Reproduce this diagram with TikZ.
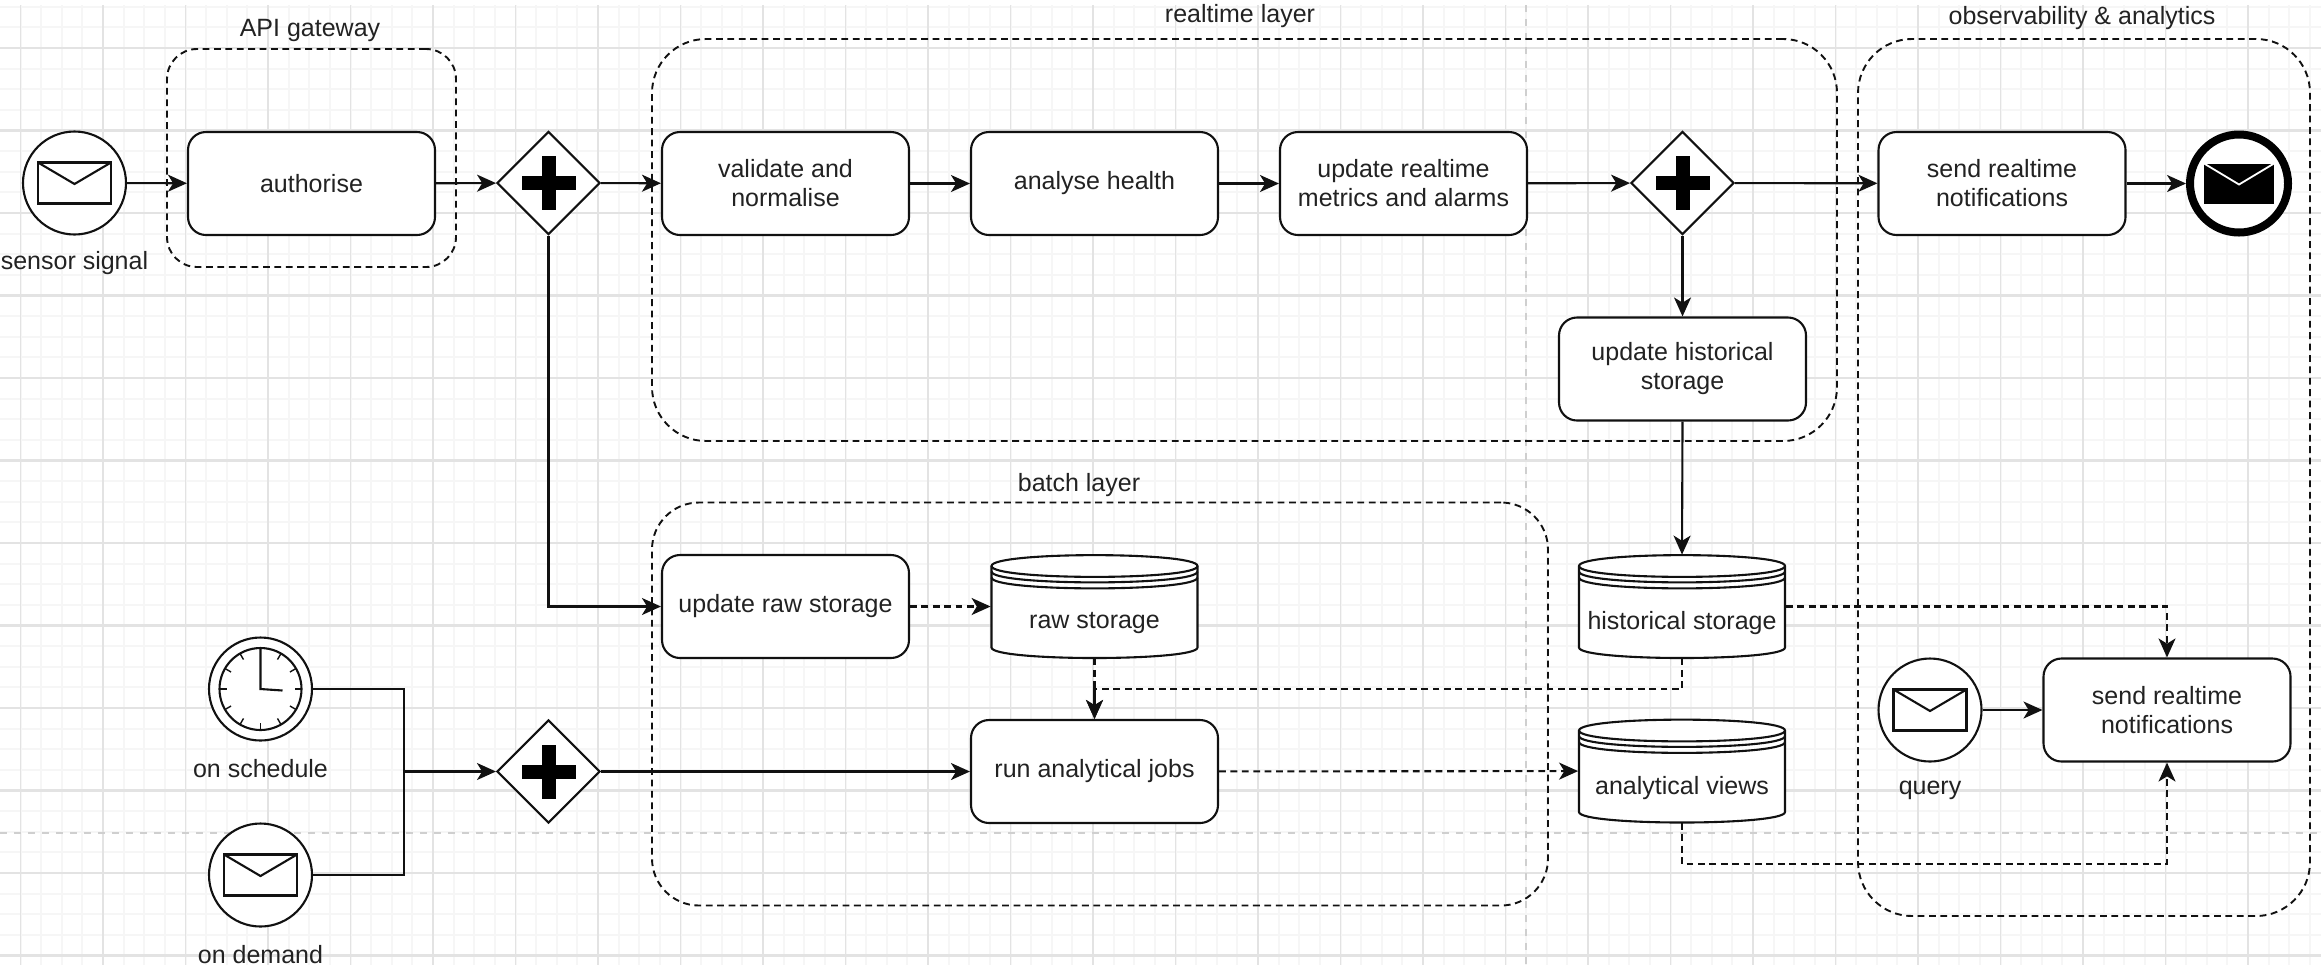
\documentclass[tikz,border=0pt]{standalone}
\usepackage{fontspec}
\setmainfont{Liberation Sans}
\usetikzlibrary{arrows.meta,shapes.geometric,calc}
\definecolor{gridmajor}{HTML}{E3E3E3}
\definecolor{gridminor}{HTML}{F6F6F6}
\definecolor{pagebreak}{HTML}{CFCFCF}
\definecolor{inkline}{HTML}{111111}
\definecolor{inktext}{HTML}{222222}
\tikzset{
  diagramfont/.style={font=\fontsize{12.5}{14.5}\selectfont, text=inktext},
  stroke/.style={draw=inkline, line width=1.05pt},
  taskbox/.style={stroke, fill=white, rectangle, rounded corners=9pt, minimum width=123.5pt, minimum height=51.5pt, inner sep=2pt, align=center, diagramfont},
  gate/.style={stroke, fill=white, diamond, aspect=1, minimum width=51.5pt, minimum height=51.5pt, inner sep=0pt},
  event/.style={stroke, fill=white, circle, minimum size=51.5pt, inner sep=0pt},
  endevent/.style={draw=black, line width=4pt, fill=white, circle, minimum size=49pt, inner sep=0pt},
  groupbox/.style={draw=inkline, line width=0.95pt, dash pattern=on 3.4pt off 2.3pt, rectangle, inner sep=0pt},
  caption/.style={diagramfont, inner sep=0pt},
  storeanchor/.style={rectangle, minimum width=103.5pt, minimum height=51.5pt, inner sep=0pt},
  flow/.style={draw=inkline, line width=1.05pt, -{Stealth[length=9.5pt,width=8.5pt,inset=2.6pt]}},
  plainflow/.style={draw=inkline, line width=1.05pt},
  dataflow/.style={draw=inkline, line width=1.05pt, dash pattern=on 3.4pt off 2.3pt, -{Stealth[length=9.5pt,width=8.5pt,inset=2.6pt]}},
}
\newcommand{\plusmark}[1]{%
  \fill[black] ($(#1.center)+(-27,-7)$) rectangle ($(#1.center)+(27,7)$);
  \fill[black] ($(#1.center)+(-7,-27)$) rectangle ($(#1.center)+(7,27)$);
}
\newcommand{\envelopemark}[1]{%
  \begin{scope}[shift={(#1.center)}]
    \draw[stroke] (-36.5,-20.5) rectangle (36.5,20.5);
    \draw[stroke] (-36.5,-20.5) -- (0,1) -- (36.5,-20.5);
  \end{scope}
}
\newcommand{\storemark}[1]{%
  \begin{scope}[shift={(#1.center)}]
    \path[stroke, fill=white] (-103,-40.5) .. controls (-103,-55) and (103,-55) .. (103,-40.5)
      -- (103,41) .. controls (103,55) and (-103,55) .. (-103,41) -- cycle;
    \draw[stroke] (-103,-40.5) .. controls (-103,-26) and (103,-26) .. (103,-40.5);
    \draw[stroke] (-103,-35) .. controls (-103,-20.5) and (103,-20.5) .. (103,-35);
    \draw[stroke] (-103,-29) .. controls (-103,-14.5) and (103,-14.5) .. (103,-29);
  \end{scope}
}
\begin{document}
\begin{tikzpicture}[x=0.5pt,y=-0.5pt]
\useasboundingbox (0,0) rectangle (2321,965);
% grid
\foreach \k in {0,...,112} {
  \draw[gridminor, line width=1pt] ({20.5+20.625*\k},5) -- ({20.5+20.625*\k},965);
}
\foreach \k in {-2,...,44} {
  \draw[gridminor, line width=1pt] (0,{48+20.625*\k}) -- (2321,{48+20.625*\k});
}
\foreach \k in {0,...,27} {
  \draw[gridmajor, line width=0.9pt] ({20.5+82.5*\k},5) -- ({20.5+82.5*\k},965);
}
\foreach \k in {0,...,11} {
  \draw[gridmajor, line width=1.1pt] (0,{48+82.5*\k}) -- (2321,{48+82.5*\k});
}
\draw[pagebreak, line width=1.1pt, dash pattern=on 3.5pt off 3.5pt] (1526,5) -- (1526,965);
\draw[pagebreak, line width=1.1pt, dash pattern=on 3.5pt off 3.5pt] (0,833) -- (2321,833);

% groups
\node[groupbox, rounded corners=15pt, minimum width=144.5pt, minimum height=109pt] (gatewaygroup) at (311.5,158) {};
\node[groupbox, rounded corners=27pt, minimum width=592.5pt, minimum height=201pt] (realtimegroup) at (1244.5,240) {};
\node[groupbox, rounded corners=27pt, minimum width=226pt, minimum height=438.5pt] (obsgroup) at (2084,477.5) {};
\node[groupbox, rounded corners=23.5pt, minimum width=448pt, minimum height=201.5pt] (batchgroup) at (1100,704) {};

% group captions
\node[caption] (gatewaycap) at (310,30) {API gateway};
\node[caption] (realtimecap) at (1240,16) {realtime layer};
\node[caption] (obscap) at (2082,18) {observability \& analytics};
\node[caption] (batchcap) at (1079,485) {batch layer};

% anchors for nodes
\node[event] (sensor) at (74.5,183) {};
\node[taskbox] (authorise) at (311.5,183.5) {authorise};
\node[gate] (splitone) at (548.5,183) {};
\node[taskbox] (validate) at (785.5,183.5) {validate and\\normalise};
\node[taskbox] (analyse) at (1094.5,183.5) {analyse health};
\node[taskbox] (metrics) at (1403.5,183.5) {update realtime\\metrics and alarms};
\node[gate] (splittwo) at (1682.5,183) {};
\node[taskbox] (sendone) at (2002,183.5) {send realtime\\notifications};
\node[endevent] (finish) at (2239,183.5) {};
\node[taskbox] (updatehist) at (1682.5,369) {update historical\\storage};
\node[taskbox] (updateraw) at (785.5,606.5) {update raw storage};
\node[storeanchor] (rawstore) at (1094.5,606.5) {};
\node[storeanchor] (histstore) at (1682,606.5) {};
\node[storeanchor] (viewstore) at (1682,771) {};
\node[taskbox] (jobs) at (1094.5,771.5) {run analytical jobs};
\node[event] (query) at (1930,710) {};
\node[taskbox] (sendtwo) at (2167,710) {send realtime\\notifications};
\node[event] (clock) at (260.5,689) {};
\node[event] (demand) at (260.5,875) {};
\node[gate] (splitthree) at (548.5,771.5) {};
\coordinate (joinpoint) at (404,771.5);

% connectors
\draw[flow] (sensor) -- (authorise);
\draw[flow] (authorise) -- (splitone);
\draw[flow] (splitone) -- (validate);
\draw[flow] (validate) -- (analyse);
\draw[flow] (analyse) -- (metrics);
\draw[flow] (metrics) -- (splittwo);
\draw[flow] (splittwo) -- (sendone);
\draw[flow] (sendone.east) -- (finish.west);
\draw[flow] (splittwo) -- (updatehist);
\draw[flow] (updatehist.south) -- (histstore.north);
\draw[flow] (splitone.south) |- (updateraw.west);
\draw[dataflow] (updateraw) -- (rawstore);
\draw[dataflow] (rawstore) -- (jobs);
\draw[dataflow] (histstore.south) -- ++(0,31) -| (jobs.north);
\draw[dataflow] (jobs) -- (viewstore);
\draw[dataflow] (histstore.east) -| (sendtwo.north);
\draw[dataflow] (viewstore.south) -- ++(0,41) -| (sendtwo.south);
\draw[flow] (query) -- (sendtwo);
\draw[plainflow] (clock.east) -| (joinpoint);
\draw[plainflow] (demand.east) -| (joinpoint);
\draw[flow] (joinpoint) -- (splitthree.west);
\draw[flow] (splitthree) -- (jobs);

% marks inside nodes
\envelopemark{sensor}
\envelopemark{query}
\envelopemark{demand}
\plusmark{splitone}
\plusmark{splittwo}
\plusmark{splitthree}
\begin{scope}[shift={(finish.center)}]
  \fill[black] (-35,-20) rectangle (35,20);
  \draw[white, line width=0.9pt] (-35,-20) -- (0,1) -- (35,-20);
\end{scope}
\begin{scope}[shift={(clock.center)}]
  \draw[stroke] (0,0) circle[radius=41];
  \foreach \a in {0,30,...,330} { \draw[inkline, line width=0.7pt] (\a:41) -- (\a:34); }
  \draw[stroke] (0,-40) -- (0,0) -- (22,1.5);
\end{scope}
\storemark{rawstore}
\storemark{histstore}
\storemark{viewstore}

% labels
\node[caption] (rawtext) at (1094.5,623) {raw storage};
\node[caption] (histtext) at (1682,623) {historical storage};
\node[caption] (viewtext) at (1682,788) {analytical views};
\node[caption] (sensorcap) at (74.5,263) {sensor signal};
\node[caption] (querycap) at (1930,790) {query};
\node[caption] (clockcap) at (260.5,769) {on schedule};
\node[caption] (demandcap) at (260.5,955) {on demand};
\end{tikzpicture}
\end{document}
